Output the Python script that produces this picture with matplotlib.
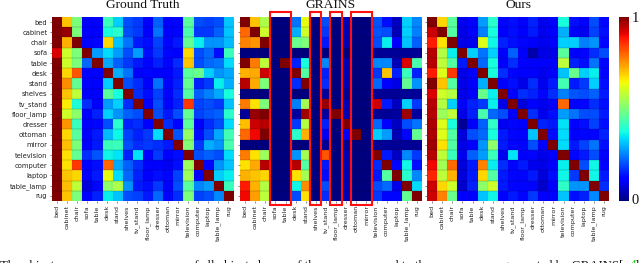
import numpy as np
import matplotlib
matplotlib.use("Agg")
import matplotlib.pyplot as plt
from matplotlib.patches import Rectangle

labels = ["bed","cabinet","chair","sofa","table","desk","stand","shelves","tv_stand",
          "floor_lamp","dresser","ottoman","mirror","television","computer","laptop","table_lamp","rug"]
titles = ["Ground Truth", "GRAINS", "Ours"]
highlight_spans = [("sofa","table"),("shelves","shelves"),("floor_lamp","floor_lamp"),("ottoman","mirror")]

ground_truth = [
 [1,.70,.50,.11,.12,.42,.33,.20,.18,.12,.22,.12,.13,.46,.20,.19,.20,.32],
 [1,.98,.50,.11,.12,.38,.40,.20,.18,.12,.24,.12,.13,.44,.18,.18,.22,.32],
 [1,.72,1,.12,.13,.68,.32,.24,.15,.14,.19,.13,.15,.47,.36,.27,.27,.31],
 [.92,.60,.50,1,.28,.34,.28,.20,.28,.14,.18,.13,.12,.68,.20,.23,.14,.42],
 [1,.60,.50,.23,1,.29,.22,.18,.15,.13,.16,.13,.17,.70,.20,.23,.24,.34],
 [1,.68,.82,.12,.11,1,.30,.24,.12,.13,.12,.12,.15,.46,.48,.33,.27,.29],
 [1,.76,.47,.12,.12,.33,1,.20,.17,.12,.24,.13,.16,.47,.16,.18,.36,.30],
 [1,.70,.58,.12,.12,.46,.38,1,.17,.14,.19,.13,.17,.45,.22,.25,.29,.38],
 [1,.66,.39,.17,.12,.28,.33,.17,1,.12,.20,.13,.16,.85,.19,.20,.18,.32],
 [1,.60,.52,.12,.16,.33,.27,.22,.20,1,.20,.15,.20,.47,.19,.21,.22,.40],
 [1,.75,.42,.11,.13,.20,.40,.16,.17,.11,1,.17,.13,.46,.11,.17,.20,.34],
 [1,.68,.46,.11,.15,.31,.37,.19,.16,.18,.34,1,.21,.53,.14,.20,.29,.43],
 [1,.71,.50,.12,.15,.42,.42,.20,.17,.18,.17,.15,1,.51,.18,.30,.27,.44],
 [1,.67,.47,.17,.21,.37,.35,.16,.35,.12,.18,.12,.14,1,.20,.22,.20,.34],
 [1,.67,.85,.11,.14,.80,.29,.22,.17,.12,.12,.10,.14,.54,1,.13,.27,.32],
 [1,.70,.68,.11,.15,.63,.34,.23,.16,.11,.14,.13,.19,.54,.13,1,.33,.36],
 [1,.71,.58,.08,.13,.52,.56,.27,.15,.14,.18,.12,.20,.46,.26,.28,1,.42],
 [1,.70,.50,.12,.16,.36,.32,.20,.19,.15,.23,.13,.17,.50,.19,.20,.26,1],
]
grains = [
 [1,.70,.56,0,0,.24,.63,0,.20,0,.05,0,0,.21,.14,.06,.33,.26],
 [.80,1,.60,0,0,.30,.60,0,.18,0,.05,0,0,.21,.20,.05,.33,.25],
 [.77,.75,1,0,0,.48,.50,0,.15,0,.05,0,0,.20,.36,.11,.32,.22],
 [0,0,0,0,0,0,0,0,0,0,0,0,0,.02,.02,.02,.02,.02],
 [1,.78,.58,0,1,.16,.38,0,.26,0,.05,0,0,.26,.26,.05,.92,.44],
 [.72,.73,.93,0,0,1,.45,0,.16,0,.05,0,0,.18,.70,.16,.42,.16],
 [.95,.73,.50,0,0,.17,1,0,.17,0,.05,0,0,.23,.11,.09,.47,.27],
 [0,0,0,0,0,0,0,0,.02,0,.02,0,0,.02,.02,.02,.02,.02],
 [.78,.67,.50,0,0,.25,.55,0,.98,0,.05,0,0,.93,.15,.06,.33,.18],
 [.02,.98,1,0,0,.03,.97,0,.03,1,.05,0,0,.02,.02,.03,.97,.03],
 [.71,.93,.95,0,0,.18,.57,0,.16,0,1,0,0,.23,.11,.06,.20,.24],
 [.80,.90,1,0,0,.40,.72,0,.10,0,.11,1,0,.33,.28,.05,.13,.47],
 [0,0,0,0,0,0,0,0,.02,0,.02,0,0,.02,.02,.02,.02,.02],
 [.78,.67,.54,0,0,.27,.55,0,.82,0,.05,0,0,1,.15,.06,.26,.18],
 [.67,.73,.95,0,0,.95,.45,0,.15,0,.05,0,0,.17,1,.13,.37,.14],
 [.72,.70,.68,0,0,.67,.55,0,.14,0,.05,0,0,.15,.45,1,.40,.26],
 [.88,.72,.57,0,0,.37,.76,0,.20,0,.05,0,0,.20,.23,.09,1,.34],
 [.90,.74,.58,0,0,.20,.67,0,.17,0,.05,0,0,.18,.13,.13,.47,1],
]
ours = [
 [1,.68,.46,.10,.12,.28,.40,.13,.14,.12,.16,.10,.11,.38,.14,.12,.20,.13],
 [.93,1,.45,.09,.11,.25,.38,.12,.14,.12,.15,.10,.11,.30,.11,.10,.19,.14],
 [.88,.67,1,.09,.10,.62,.37,.16,.14,.13,.12,.10,.11,.33,.33,.25,.27,.13],
 [.95,.57,.36,1,.33,.24,.33,.12,.22,.11,.04,.09,.09,.46,.11,.13,.17,.20],
 [.95,.58,.45,.15,1,.23,.38,.11,.17,.12,.12,.11,.12,.58,.16,.14,.24,.13],
 [.88,.62,.85,.09,.11,1,.38,.17,.13,.12,.12,.10,.11,.32,.48,.33,.36,.13],
 [1,.70,.45,.09,.12,.30,1,.12,.14,.09,.17,.10,.15,.43,.15,.18,.33,.14],
 [.92,.60,.57,.09,.11,.48,.36,1,.11,.17,.16,.13,.17,.25,.21,.20,.22,.15],
 [.95,.57,.33,.12,.16,.18,.36,.09,1,.08,.12,.10,.11,.80,.12,.13,.17,.14],
 [.95,.54,.58,.09,.16,.44,.23,.20,.12,1,.17,.10,.14,.28,.24,.20,.20,.15],
 [.96,.62,.38,.02,.11,.22,.41,.10,.13,.11,1,.16,.15,.35,.12,.14,.19,.14],
 [.96,.62,.45,.08,.20,.23,.38,.15,.13,.13,.32,1,.14,.34,.12,.13,.13,.16],
 [.97,.67,.45,.09,.12,.27,.52,.15,.13,.13,.20,.12,1,.34,.15,.19,.24,.14],
 [.95,.58,.42,.10,.22,.28,.42,.10,.35,.11,.13,.09,.11,1,.13,.15,.20,.12],
 [.90,.55,.80,.08,.15,.77,.36,.17,.13,.15,.10,.09,.11,.36,1,.20,.37,.12],
 [.87,.58,.72,.08,.15,.68,.45,.15,.13,.13,.15,.08,.14,.37,.18,1,.37,.15],
 [.93,.68,.60,.07,.16,.52,.60,.15,.13,.13,.13,.07,.12,.41,.27,.27,1,.17],
 [.93,.77,.48,.11,.12,.32,.37,.11,.15,.13,.18,.11,.12,.32,.14,.16,.26,1],
]
matrices = [ground_truth, grains, ours]

W, H = 640, 263
fig = plt.figure(figsize=(W/100, H/100), dpi=100)
SERIF = "Liberation Serif"

def box(x0, x1, y0, y1):
    return [x0/W, 1-y1/H, (x1-x0)/W, (y1-y0)/H]

lefts = [51.5, 240, 427]
pw = 182
top, bottom = 17, 201
n = len(labels)
for i, (mat, title, left) in enumerate(zip(matrices, titles, lefts)):
    ax = fig.add_axes(box(left, left+pw, top, bottom))
    im = ax.imshow(np.array(mat), cmap="jet", vmin=0, vmax=1, aspect="auto", interpolation="nearest")
    ax.set_xticks(range(n))
    ax.set_xticklabels(labels, rotation=90, fontsize=4.6, color="#222222")
    ax.set_yticks(range(n))
    if i == 0:
        ax.set_yticklabels(labels, fontsize=4.9, color="#222222")
    else:
        ax.set_yticklabels([])
        ax.tick_params(axis="y", length=0)
    ax.tick_params(axis="both", length=1.5, width=0.4, pad=1.5, color="#333333")
    for s in ax.spines.values():
        s.set_visible(False)
    ax.hlines(np.arange(.5, n-1), -.5, n-.5, color="#000020", lw=0.35, alpha=.35)
    ax.vlines(np.arange(.5, n-1), -.5, n-.5, color="#000020", lw=0.2, alpha=.2)
    ax.set_title(title, fontsize=9.7, family=SERIF, pad=6.2, color="#111111")
    if title == "GRAINS":
        for a, b in highlight_spans:
            c0, c1 = labels.index(a), labels.index(b)
            ax.add_patch(Rectangle((c0-.55, -.97), c1-c0+1.1, n+.84, fill=False,
                                   ec="#ff1010", lw=1.5, clip_on=False, zorder=5))
    ax.set_xlim(-.5, n-.5)
    ax.set_ylim(n-.5, -.5)

cax = fig.add_axes(box(619, 629, top, bottom))
cb = fig.colorbar(im, cax=cax)
cb.set_ticks([])
cb.outline.set_visible(False)
fig.text(635.5/W, 1-18/H, "1", family=SERIF, fontsize=10.5, va="center", ha="center", color="#111111")
fig.text(635.5/W, 1-200/H, "0", family=SERIF, fontsize=10.5, va="center", ha="center", color="#111111")

caption_parts = [("The object co-occurrence maps", 0, "#111111"),
                 ("of all object classes of the", 188, "#111111"),
                 ("room compared to the", 318, "#111111"),
                 ("scenes generated by GRAINS[", 466, "#111111"),
                 ("4", 630, "#22cc22"),
                 ("]", 635, "#111111")]
for text, x, colour in caption_parts:
    fig.text(x/W, 1-268.5/H, text, family=SERIF, fontsize=9.2, va="baseline", ha="left", color=colour)

fig.savefig("out.png", dpi=100)
